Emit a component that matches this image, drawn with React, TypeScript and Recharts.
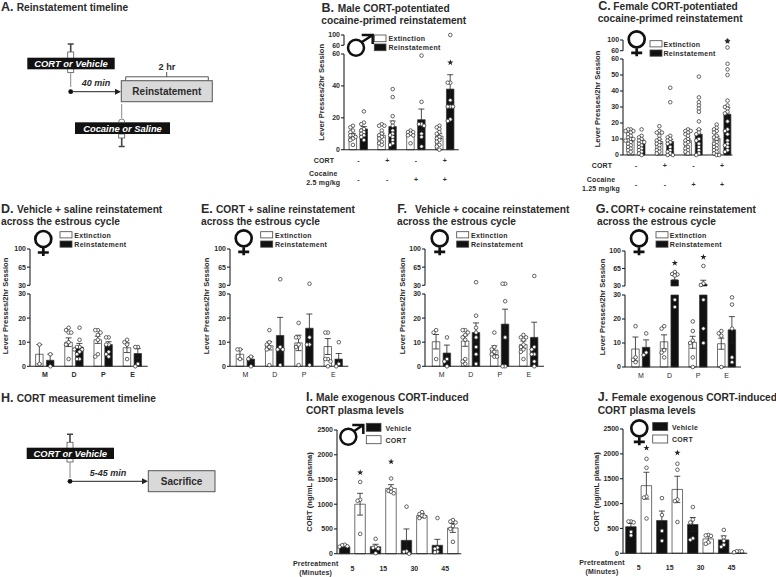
import {
  Bar,
  ComposedChart,
  ErrorBar,
  Rectangle,
  Scatter,
  Symbols,
  XAxis,
  YAxis
} from "recharts";

const FONT = "'Liberation Sans', Arial, sans-serif";
const INK = "#2b2b2b";
const BLACK = "#111111";

const legendReinstatement = ["Extinction", "Reinstatement"];
const legendPlasma = ["Vehicle", "CORT"];
const phases = ["M", "D", "P", "E"];
const minutes = ["5", "15", "30", "45"];
const cortSigns = ["-", "+", "-", "+"];
const cocaineSigns = ["-", "-", "+", "+"];

// each panel: mean, sem and individual points for every bar, left to right
const bMeans = [9, 13, 9, 14.5, 10, 18.8, 8.5, 38];
const bErrors = [1.2, 1.5, 1.3, 3.5, 1, 6.7, 1.5, 9];
const bDots = [
  [15, 14, 12, 11, 9, 9, 8, 7, 6, 3],
  [24, 17, 16, 13, 12, 11, 10, 9, 8, 6],
  [16, 15, 15, 12, 10, 9, 8, 7, 5, 4, 3],
  [38, 33, 21, 17, 15, 12, 10, 9, 8, 6, 4, 3],
  [12, 11, 11, 10, 9, 9, 4],
  [59, 30, 16, 16, 15, 10, 8, 2],
  [15, 14, 13, 11, 10, 8, 7, 6, 5, 3, 2, 0],
  [100, 42, 42, 31, 27, 27, 27, 19, 18]
];
const bStars = [{ bar: 7, y: 54.6 }];

const cMeans = [9.6, 8.5, 8.5, 8.5, 9, 13, 10.5, 25.5];
const cErrors = [1, 1, 1.3, 1.2, 1, 2.8, 1.2, 4];
const cDots = [
  [16, 16, 15, 15, 14, 13, 12, 11, 10, 10, 9, 9, 8, 7, 6, 5, 4, 3, 2],
  [16, 12, 11, 10, 9, 8, 8, 7, 6, 5, 4, 3, 2, 1, 0],
  [18, 15, 14, 14, 12, 10, 9, 8, 7, 6, 4, 3, 2, 1],
  [42, 33, 12, 11, 10, 9, 8, 7, 5, 3, 2, 1, 0, 0],
  [16, 15, 15, 14, 13, 12, 10, 9, 8, 7, 5, 4, 3, 2, 1],
  [49, 36, 33, 31, 29, 27, 21, 16, 14, 13, 10, 9, 7, 5, 3, 1, 0],
  [19, 17, 16, 15, 14, 12, 11, 10, 8, 7, 6, 5, 4, 3, 2, 1, 0, 0],
  [97, 72, 57, 53.5, 50, 34, 31, 30, 29, 27, 26, 21, 16, 15, 13, 9, 7, 6, 5, 3, 2]
];
const cStars = [{ bar: 7, y: 95 }];

const dMeans = [5, 2.5, 10, 8, 11, 9, 7.7, 5.3];
const dErrors = [4, 2.5, 1.8, 1.5, 1.5, 1.2, 2, 2];
const dDots = [
  [9, 1],
  [5, 0],
  [16, 15, 14, 14, 10, 9, 3],
  [16, 11, 8, 8, 7, 7, 6, 5, 3, 3],
  [15, 15, 14, 13, 11, 5, 4],
  [12, 12, 9, 9, 6, 5, 4],
  [11, 10, 9, 3],
  [8, 8, 1, 0]
];

const eMeans = [5, 3, 8.5, 12.8, 9.7, 15.8, 8.2, 3];
const eErrors = [2, 1, 1.7, 7.5, 3.2, 5.9, 3.3, 2.3];
const eDots = [
  [7, 7, 3],
  [4, 3, 0],
  [15, 10, 9, 8, 7, 0.5],
  [41.7, 8, 7, 7, 0.5],
  [18, 12, 12, 9, 8, 0.5],
  [33, 12, 9, 9, 0.5],
  [14, 14, 3, 3, 2, 0],
  [10, 1, 0]
];

const fMeans = [10.2, 5.5, 10.5, 14, 6.7, 17.5, 9, 12];
const fErrors = [3, 3.3, 2.2, 4, 1.8, 6.2, 1.5, 6.3];
const fDots = [
  [15, 14, 3],
  [12, 3, 2, 0],
  [15, 15, 14, 13, 12, 11, 3, 2, 1],
  [36, 21, 16, 14, 12, 8, 5, 1],
  [14, 8, 7, 6, 5, 4, 4],
  [33, 33, 27, 12, 0, 0],
  [13, 12, 12, 11, 9, 8, 7, 6, 3],
  [48, 8, 7, 5, 5, 2, 0]
];

const gMeans = [7.5, 8.2, 10.5, 42, 10.3, 33.5, 9.7, 15.5];
const gErrors = [5, 3.1, 2.9, 9, 2.5, 8, 2.3, 5.5];
const gDots = [
  [17, 4, 3, 2],
  [14, 6, 5],
  [17, 16, 7, 6, 4],
  [58, 54, 53, 51, 28, 25],
  [19, 15, 11, 10, 4, 0],
  [70, 35, 32, 28, 16, 10],
  [15, 14, 13, 0],
  [29, 26, 16, 4, 2]
];
const gStars = [
  { bar: 3, y: 76 },
  { bar: 5, y: 88 }
];

const iMeans = [140, 1000, 140, 1320, 270, 770, 170, 520];
const iErrors = [30, 220, 50, 75, 230, 45, 120, 90];
const iDots = [
  [180, 170, 150, 140],
  [1450, 1090, 1070, 400],
  [300, 140, 120, 100, 10],
  [1520, 1320, 1270, 1250, 1220],
  [950, 50, 40, 0],
  [840, 800, 770, 750, 720],
  [720, 120, 100, 40, 30],
  [680, 650, 630, 560, 500, 240]
];
const iStars = [
  { bar: 1, y: 1640 },
  { bar: 3, y: 1860 }
];

const jMeans = [535, 1360, 660, 1285, 580, 290, 270, 10];
const jErrors = [65, 270, 190, 265, 140, 80, 80, 10];
const jDots = [
  [640, 640, 620, 430, 360],
  [1900, 1720, 1140, 1120, 700],
  [1110, 770, 450, 250],
  [1800, 1680, 1080, 1050, 630],
  [930, 680, 620, 300, 270],
  [370, 360, 350, 220, 190],
  [470, 320, 250, 170, 130],
  [40, 40, 40, 20]
];
const jStars = [
  { bar: 1, y: 2120 },
  { bar: 3, y: 2020 }
];

type Star = { bar: number; y: number };
type Row = { x: number; mean: number; err: number | number[] | null; fill: string };
type Pt = { x: number; y: number };

// spreads equal-ish values sideways so the circles don't sit on top of each other
function swarm(values: number[], cx: number, dx: number, near: number): Pt[] {
  const placed: Pt[] = [];
  [...values]
    .sort((a, b) => b - a)
    .forEach((y) => {
      for (const k of [0, -1, 1, -2, 2]) {
        const x = cx + k * dx;
        const hit = placed.some((p) => Math.abs(p.x - x) < dx * 0.9 && Math.abs(p.y - y) < near);
        if (!hit) {
          placed.push({ x, y });
          return;
        }
      }
      placed.push({ x: cx, y });
    });
  return placed;
}

const barX = (i: number, off: number) => Math.floor(i / 2) + 1 + (i % 2 ? off : -off);

function Dot(p: any) {
  return <circle cx={p.cx} cy={p.cy} r={1.8} fill="#fff" stroke="#333" strokeWidth={0.75} />;
}

function StarMark(p: any) {
  return <Symbols type="star" size={12} cx={p.cx} cy={p.cy} fill="#222" />;
}

function Segment(props: {
  x: number;
  right: number;
  y0: number;
  yTop: number;
  yDomain: number[];
  yTicks: number[];
  xDomain: number[];
  rows: Row[];
  dots: Pt[];
  stars: Pt[];
  barSize: number;
  xTick?: any;
  xHeight: number;
}) {
  const { x, right, y0, yTop, yDomain, yTicks, xDomain, rows, dots, stars, barSize, xTick, xHeight } = props;
  const axisW = 26;
  const axisProps = { stroke: "#222", strokeWidth: 1.1 };
  // recharts shrinks the bars on a number axis, so the width is set here
  const barShape = (p: any) =>
    p.height < 0.1 ? (
      <g />
    ) : (
      <Rectangle
        x={p.x + p.width / 2 - barSize / 2}
        y={p.y}
        width={barSize}
        height={p.height}
        fill={p.payload.fill}
        stroke="#333"
        strokeWidth={0.7}
      />
    );
  return (
    <div style={{ position: "absolute", left: x - axisW, top: yTop - 6 }}>
      <ComposedChart
        width={right - x + axisW + 4}
        height={y0 - yTop + 6 + xHeight}
        data={rows}
        margin={{ top: 6, right: 4, bottom: xTick ? 0 : xHeight, left: 0 }}
      >
        <XAxis
          type="number"
          dataKey="x"
          domain={xDomain}
          ticks={[1, 2, 3, 4]}
          hide={!xTick}
          height={xHeight}
          tick={xTick}
          tickLine={false}
          tickSize={0}
          tickMargin={0}
          interval={0}
          axisLine={axisProps}
        />
        <YAxis
          type="number"
          width={axisW}
          domain={yDomain}
          ticks={yTicks}
          interval={0}
          axisLine={axisProps}
          tickLine={axisProps}
          tickSize={3}
          tickMargin={1}
          tick={{ fontSize: 7, fontWeight: 700, fill: INK, fontFamily: FONT }}
        />
        <Bar dataKey="mean" barSize={barSize} shape={barShape} isAnimationActive={false}>
          <ErrorBar dataKey="err" direction="y" width={3} stroke="#222" strokeWidth={0.8} isAnimationActive={false} />
        </Bar>
        {/* a Scatter with an empty list falls back to the chart rows */}
        {dots.length > 0 && <Scatter data={dots} dataKey="y" shape={Dot} isAnimationActive={false} />}
        {stars.length > 0 && <Scatter data={stars} dataKey="y" shape={StarMark} isAnimationActive={false} />}
      </ComposedChart>
    </div>
  );
}

function Panel(props: {
  x: number;
  right: number;
  y0: number;
  yMid: number;
  lower: number[];
  upperBottom?: number;
  upperTop?: number;
  upper?: number[];
  xDomain: number[];
  offset: number;
  barSize: number;
  firstDark?: boolean;
  means: number[];
  errors: number[];
  dots: number[][];
  stars?: Star[];
  xTick: any;
  xHeight: number;
}) {
  const { x, right, y0, yMid, lower, upper, upperBottom, upperTop, xDomain, offset, barSize, firstDark, means, errors, dots, stars = [], xTick, xHeight } = props;
  const lowMax = lower[lower.length - 1];
  const spacing = (right - x) / (xDomain[1] - xDomain[0]);
  const lowNear = (3 / (y0 - yMid)) * lowMax;
  const dx = 2.6 / spacing;
  const rows: Row[] = means.map((m, i) => ({
    x: barX(i, offset),
    mean: m,
    err: errors[i],
    fill: i % 2 === (firstDark ? 0 : 1) ? BLACK : "#fff"
  }));
  const allStars = stars.map((s) => ({ x: barX(s.bar, offset), y: s.y }));
  const lowDots = dots.flatMap((vals, i) =>
    swarm(vals.filter((v) => v <= lowMax), barX(i, offset), dx, lowNear)
  );
  // a bar taller than the lower axis fills it and carries on above the break
  const lowRows = rows.map((r) => (r.mean > lowMax ? { ...r, mean: lowMax, err: null } : r));
  // rows below the break sit on the floor of the upper axis with no height and draw nothing
  const highRows = rows.map((r) =>
    r.mean > lowMax ? { ...r, err: [0, r.err as number] } : { ...r, mean: lowMax, err: null }
  );
  const common = { x, right, xDomain, barSize };
  return (
    <>
      <Segment
        {...common}
        y0={y0}
        yTop={yMid}
        yDomain={[0, lowMax]}
        yTicks={lower}
        rows={lowRows}
        dots={lowDots}
        stars={allStars.filter((s) => s.y <= lowMax)}
        xTick={xTick}
        xHeight={xHeight}
      />
      {upper && upperBottom !== undefined && upperTop !== undefined && (
        <Segment
          {...common}
          y0={upperBottom}
          yTop={upperTop}
          yDomain={[upper[0], upper[upper.length - 1]]}
          yTicks={upper}
          rows={highRows}
          dots={dots.flatMap((vals, i) =>
            swarm(vals.filter((v) => v > lowMax), barX(i, offset), dx, 3 / ((upperBottom - upperTop) / (upper[upper.length - 1] - upper[0])))
          )}
          stars={allStars.filter((s) => s.y > lowMax)}
          xHeight={6}
        />
      )}
    </>
  );
}

// x axis tick drawings, p.y is the axis line here because tickSize is 0
const tickText = { fontSize: 7, fontWeight: 700, fill: INK, fontFamily: FONT, textAnchor: "middle" as const };

const signTick = (p: any) => {
  const i = p.payload.value - 1;
  return (
    <g>
      <text x={p.x} y={p.y + 13} {...tickText}>{cortSigns[i]}</text>
      <text x={p.x} y={p.y + 32} {...tickText}>{cocaineSigns[i]}</text>
    </g>
  );
};

function labelTick(labels: string[], dy: number, weight = 700) {
  return (p: any) => (
    <text x={p.x} y={p.y + dy} {...tickText} fontWeight={weight}>
      {labels[p.payload.value - 1]}
    </text>
  );
}

function Female({ cx, cy }: { cx: number; cy: number }) {
  return (
    <g stroke={BLACK} strokeWidth={2.7} fill="none">
      <circle cx={cx} cy={cy} r={8} />
      <path d={`M${cx} ${cy + 9}V${cy + 17}M${cx - 5.5} ${cy + 13.5}H${cx + 5.5}`} />
    </g>
  );
}

function Male({ cx, cy, tx, ty }: { cx: number; cy: number; tx: number; ty: number }) {
  return (
    <g stroke={BLACK} strokeWidth={2.5} fill="none">
      <circle cx={cx} cy={cy} r={8} />
      <path d={`M${cx + 5.5} ${cy - 5.5}L${tx} ${ty}M${tx - 11} ${ty}H${tx}V${ty + 9}`} />
    </g>
  );
}

function LegendBox(props: { x: number; w: number; y1: number; y2: number; h: number; labels: string[]; tx: number; t1: number; t2: number; firstDark?: boolean }) {
  const { x, w, y1, y2, h, labels, tx, t1, t2, firstDark } = props;
  return (
    <g>
      <rect x={x} y={y1} width={w} height={h} fill={firstDark ? BLACK : "#fff"} stroke="#444" strokeWidth={0.8} />
      <rect x={x} y={y2} width={w} height={h} fill={firstDark ? "#fff" : BLACK} stroke="#444" strokeWidth={0.8} />
      <text x={tx} y={t1} fontSize={7} fontWeight={700} fill={INK} letterSpacing={0.3}>{labels[0]}</text>
      <text x={tx} y={t2} fontSize={7} fontWeight={700} fill={INK} letterSpacing={0.3}>{labels[1]}</text>
    </g>
  );
}

function Title(props: { letter: string; lx: number; tx: number; y: number; text: string; line2?: string; l2x?: number; l2y?: number }) {
  const { letter, lx, tx, y, text, line2, l2x, l2y } = props;
  return (
    <g fill={INK} fontWeight={700} fontSize={10.2}>
      <text x={lx} y={y} fontSize={12.5}>{letter}</text>
      <text x={tx} y={y}>{text}</text>
      {line2 && <text x={l2x} y={l2y}>{line2}</text>}
    </g>
  );
}

function RotLabel({ x, y, text, size = 7.6 }: { x: number; y: number; text: string; size?: number }) {
  return (
    <text x={x} y={y} transform={`rotate(-90 ${x} ${y})`} textAnchor="middle" fontSize={size} fontWeight={700} fill={INK}>
      {text}
    </text>
  );
}

function CenterLabel({ x, y, text }: { x: number; y: number; text: string }) {
  return (
    <text x={x} y={y} textAnchor="middle" fontSize={7} fontWeight={700} fill={INK} letterSpacing={0.2}>
      {text}
    </text>
  );
}

function Syringe({ x, top, barrelTop, barrelBottom, tipEnd }: { x: number; top: number; barrelTop: number; barrelBottom: number; tipEnd: number }) {
  return (
    <g>
      <path d={`M${x - 3} ${top}H${x + 3}M${x} ${top}V${barrelTop}`} stroke="#444" strokeWidth={1.6} fill="none" />
      <rect x={x - 3} y={barrelTop} width={6} height={barrelBottom - barrelTop} fill="#fff" stroke="#555" strokeWidth={0.8} />
      <path d={`M${x} ${barrelBottom}V${tipEnd}`} stroke="#888" strokeWidth={1} />
    </g>
  );
}

function Timelines() {
  return (
    <g fontFamily={FONT}>
      {/* A */}
      <Syringe x={70.7} top={44} barrelTop={52} barrelBottom={72.5} tipEnd={87} />
      <rect x={27.3} y={57.7} width={87.4} height={11.6} fill={BLACK} />
      <text x={71} y={67} textAnchor="middle" fontSize={9.4} fontWeight={700} fontStyle="italic" fill="#fff">CORT or Vehicle</text>
      <circle cx={70.7} cy={91.7} r={2.4} fill={BLACK} />
      <path d="M72 91.7H116" stroke="#222" strokeWidth={1} />
      <path d="M115 88.7L121 91.7L115 94.7Z" fill="#222" />
      <text x={96} y={86} textAnchor="middle" fontSize={9} fontWeight={700} fontStyle="italic" fill={INK}>40 min</text>
      <path d="M125.7 80.3V76.8H208.3V80.3M166.7 76.8V72" fill="none" stroke="#444" strokeWidth={0.9} />
      <text x={167} y={70.3} textAnchor="middle" fontSize={9.2} fontWeight={700} fill={INK}>2 hr</text>
      <rect x={121.3} y={80.7} width={91} height={21} fill="#d9d9d9" stroke="#555" strokeWidth={1} />
      <text x={166.8} y={95} textAnchor="middle" fontSize={10} fontWeight={700} fill={INK}>Reinstatement</text>
      <path d="M121.7 104V118" stroke="#888" strokeWidth={1} />
      <rect x={118.7} y={134} width={6} height={4} fill="#fff" stroke="#555" strokeWidth={0.8} />
      <path d="M118.7 122a3 3 0 0 1 6 0" fill="#fff" stroke="#555" strokeWidth={0.8} />
      <path d="M121.7 138V146.5M118.7 146.5H124.7" stroke="#444" strokeWidth={1.6} fill="none" />
      <rect x={75} y={122.3} width={95} height={11.7} fill={BLACK} />
      <text x={122.5} y={131.5} textAnchor="middle" fontSize={9.4} fontWeight={700} fontStyle="italic" fill="#fff">Cocaine or Saline</text>
      {/* H */}
      <Syringe x={70} top={434.3} barrelTop={442.3} barrelBottom={462} tipEnd={478} />
      <rect x={26.7} y={447.7} width={87.3} height={11.3} fill={BLACK} />
      <text x={70.3} y={456.8} textAnchor="middle" fontSize={9.4} fontWeight={700} fontStyle="italic" fill="#fff">CORT or Vehicle</text>
      <circle cx={70} cy={481.3} r={2.4} fill={BLACK} />
      <path d="M72 481.3H143" stroke="#222" strokeWidth={1} />
      <path d="M142 478.3L148 481.3L142 484.3Z" fill="#222" />
      <text x={108} y={475.7} textAnchor="middle" fontSize={9} fontWeight={700} fontStyle="italic" fill={INK}>5-45 min</text>
      <rect x={148.3} y={470.7} width={66.7} height={21} fill="#d9d9d9" stroke="#555" strokeWidth={1} />
      <text x={181.6} y={485} textAnchor="middle" fontSize={10} fontWeight={700} fill={INK}>Sacrifice</text>
    </g>
  );
}

export default function App() {
  const sharedD = { y0: 366, yMid: 293.7, lower: [0, 10, 20, 30], upperBottom: 285, upperTop: 248.7, upper: [30, 65, 100], offset: 0.186, barSize: 7.5, xHeight: 16 };
  const sharedPlasma = { lower: [0, 500, 1000, 1500, 2000, 2500], offset: 0.25, barSize: 10.5, firstDark: true, xHeight: 22 };
  return (
    <div style={{ position: "absolute", left: 0, top: 0, width: 776, height: 577, background: "#fff", overflow: "hidden", fontFamily: FONT }}>
      <Panel x={344.3} right={459} y0={150} yMid={54.3} lower={[0, 20, 40, 60]} upperBottom={45.3} upperTop={35} upper={[60, 100]} xDomain={[0.5, 4.48]} offset={0.19} barSize={7.5} means={bMeans} errors={bErrors} dots={bDots} stars={bStars} xTick={signTick} xHeight={38} />
      <Panel x={623.3} right={732.7} y0={155.3} yMid={59.3} lower={[0, 10, 20, 30, 40, 50, 60]} upperBottom={51} upperTop={40.3} upper={[60, 100]} xDomain={[0.54, 4.36]} offset={0.19} barSize={7} means={cMeans} errors={cErrors} dots={cDots} stars={cStars} xTick={signTick} xHeight={38} />
      <Panel {...sharedD} x={30} right={147.7} xDomain={[0.49, 4.52]} means={dMeans} errors={dErrors} dots={dDots} xTick={labelTick(phases, 11)} />
      <Panel {...sharedD} x={230} right={348.3} xDomain={[0.47, 4.51]} means={eMeans} errors={eErrors} dots={eDots} xTick={labelTick(phases, 11, 400)} />
      <Panel {...sharedD} x={425} right={544} xDomain={[0.43, 4.52]} means={fMeans} errors={fErrors} dots={fDots} xTick={labelTick(phases, 11, 400)} />
      <Panel {...sharedD} x={625} right={741} y0={366.7} yMid={294.7} upperBottom={286} upperTop={251} xDomain={[0.444, 4.5]} means={gMeans} errors={gErrors} dots={gDots} stars={gStars} xTick={labelTick(phases, 11, 400)} />
      <Panel {...sharedPlasma} x={336.7} right={461} y0={553.7} yMid={430} xDomain={[0.5, 4.52]} means={iMeans} errors={iErrors} dots={iDots} stars={iStars} xTick={labelTick(minutes, 17)} />
      <Panel {...sharedPlasma} x={622.7} right={747} y0={553.3} yMid={429} xDomain={[0.49, 4.51]} means={jMeans} errors={jErrors} dots={jDots} stars={jStars} xTick={labelTick(minutes, 17)} />

      <svg width={776} height={577} style={{ position: "absolute", left: 0, top: 0, pointerEvents: "none" }} fontFamily={FONT}>
        <Title letter="A." lx={1} tx={16.7} y={11} text="Reinstatement timeline" />
        <Title letter="B." lx={321.5} tx={337.7} y={11.5} text="Male CORT-potentiated" line2="cocaine-primed reinstatement" l2x={321.3} l2y={24.3} />
        <Title letter="C." lx={598.3} tx={613.3} y={9.5} text="Female CORT-potentiated" line2="cocaine-primed reinstatement" l2x={597.7} l2y={22} />
        <Title letter="D." lx={1} tx={17} y={212.7} text="Vehicle + saline reinstatement" line2="across the estrous cycle" l2x={1} l2y={225.3} />
        <Title letter="E." lx={201} tx={216} y={212.7} text="CORT + saline reinstatement" line2="across the estrous cycle" l2x={201} l2y={225.3} />
        <Title letter="F." lx={397.3} tx={415} y={212.7} text="Vehicle + cocaine reinstatement" line2="across the estrous cycle" l2x={397} l2y={225.3} />
        <Title letter="G." lx={595.7} tx={610.7} y={212.7} text="CORT+ cocaine reinstatement" line2="across the estrous cycle" l2x={597} l2y={225.3} />
        <Title letter="H." lx={1} tx={16.7} y={401.7} text="CORT measurement timeline" />
        <Title letter="I." lx={306} tx={316} y={400.7} text="Male exogenous CORT-induced" line2="CORT plasma levels" l2x={306} l2y={413.7} />
        <Title letter="J." lx={597.7} tx={611.7} y={401} text="Female exogenous CORT-induced" line2="CORT plasma levels" l2x={597.7} l2y={414} />

        <Male cx={356} cy={47.7} tx={372.7} ty={35} />
        <Female cx={636.7} cy={39.3} />
        <Female cx={43.3} cy={239} />
        <Female cx={243.7} cy={238.3} />
        <Female cx={439.7} cy={238.3} />
        <Female cx={639} cy={238.3} />
        <Male cx={348.3} cy={436.7} tx={363.3} ty={425} />
        <Female cx={639.3} cy={428.3} />

        <LegendBox x={374.3} w={11.7} y1={35} y2={44} h={6.7} labels={legendReinstatement} tx={388.5} t1={40.5} t2={50.3} />
        <LegendBox x={650} w={12} y1={40.7} y2={50} h={6.2} labels={legendReinstatement} tx={663.5} t1={47} t2={56.3} />
        <LegendBox x={60} w={12} y1={231.7} y2={241} h={6.2} labels={legendReinstatement} tx={74.3} t1={238} t2={247.3} />
        <LegendBox x={260.7} w={12} y1={231.7} y2={241} h={6.2} labels={legendReinstatement} tx={275} t1={238} t2={247.3} />
        <LegendBox x={456.7} w={12} y1={231.7} y2={241} h={6.2} labels={legendReinstatement} tx={471} t1={238} t2={247.3} />
        <LegendBox x={656} w={12} y1={231.7} y2={241} h={6.2} labels={legendReinstatement} tx={669.8} t1={238} t2={247.3} />
        <LegendBox x={366.3} w={14.7} y1={423.3} y2={435.7} h={8} labels={legendPlasma} tx={385.5} t1={430.5} t2={442.7} firstDark />
        <LegendBox x={652.7} w={15} y1={422.5} y2={435} h={8} labels={legendPlasma} tx={672} t1={430} t2={442.3} firstDark />

        <RotLabel x={324} y={92.3} text="Lever Presses/2hr Session" />
        <RotLabel x={600} y={99} text="Lever Presses/2hr Session" />
        <RotLabel x={8} y={306} text="Lever Presses/2hr Session" />
        <RotLabel x={209} y={306} text="Lever Presses/2hr Session" />
        <RotLabel x={405} y={306} text="Lever Presses/2hr Session" />
        <RotLabel x={605} y={307} text="Lever Presses/2hr Session" />
        <RotLabel x={312} y={492} text="CORT (ng/mL plasma)" />
        <RotLabel x={599} y={492} text="CORT (ng/mL plasma)" />

        <CenterLabel x={324} y={163.3} text="CORT" />
        <CenterLabel x={323.3} y={176} text="Cocaine" />
        <CenterLabel x={323.3} y={185} text="2.5 mg/kg" />
        <CenterLabel x={602} y={168} text="CORT" />
        <CenterLabel x={601} y={181.7} text="Cocaine" />
        <CenterLabel x={601} y={190.7} text="1.25 mg/kg" />
        <CenterLabel x={315.7} y={566} text="Pretreatment" />
        <CenterLabel x={315.7} y={575} text="(Minutes)" />
        <CenterLabel x={602} y={565.3} text="Pretreatment" />
        <CenterLabel x={602} y={574.3} text="(Minutes)" />

        <Timelines />
      </svg>
    </div>
  );
}
